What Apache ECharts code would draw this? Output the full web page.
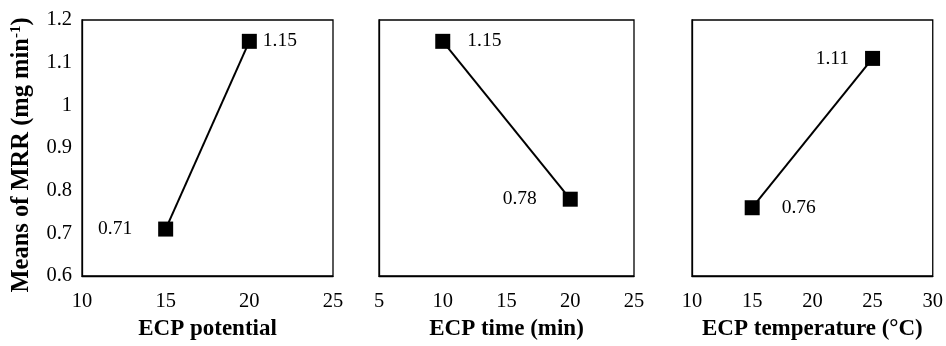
<!DOCTYPE html>
<html><head><meta charset="utf-8">
<script src="https://cdn.jsdelivr.net/npm/echarts@6/dist/echarts.min.js"></script>
<style>html,body{margin:0;padding:0;background:#fff}#c{width:946px;height:346px}</style>
</head><body><div id="c"></div>
<script>
// Data
const potentialX = [15, 20];
const potentialY = [0.71, 1.15];
const timeX = [10, 20];
const timeY = [1.15, 0.78];
const tempX = [15, 25];
const tempY = [0.76, 1.11];
const xTitles = ['ECP potential', 'ECP time (min)', 'ECP temperature (°C)'];
const xRanges = [[10, 25], [5, 25], [10, 30]];
const yRange = [0.6, 1.2];

// Style-only label placement
const labelPlace = [
  [['left', 26], ['right', 6]],
  [['right', 17], ['left', 26]],
  [['right', 22], ['left', 16]]
];

const FONT = 'Liberation Serif';
const grids = [
  {left: 82, width: 251, top: 20, bottom: 67},
  {left: 379, width: 255, top: 20, bottom: 67},
  {left: 692, width: 245, top: 20, bottom: 67}
];
const xs = [potentialX, timeX, tempX];
const ys = [potentialY, timeY, tempY];

const option = {
  animation: false,
  backgroundColor: '#fff',
  grid: grids.map(g => Object.assign({show: true, borderColor: '#000', borderWidth: 1.3, backgroundColor: 'transparent'}, g)),
  xAxis: xRanges.map((r, i) => ({
    type: 'value', gridIndex: i, min: r[0], max: r[1], interval: 5,
    name: xTitles[i], nameLocation: 'middle', nameGap: 42,
    nameTextStyle: {fontFamily: FONT, fontWeight: 'bold', fontSize: 23, color: '#000'},
    axisLine: {show: true, lineStyle: {color: '#000', width: 1.3}},
    axisTick: {show: false}, splitLine: {show: false},
    axisLabel: {fontFamily: FONT, fontSize: 20.5, color: '#000', margin: 15}
  })),
  yAxis: [0, 1, 2].map(i => ({
    type: 'value', gridIndex: i, min: yRange[0], max: yRange[1], interval: 0.1,
    name: i === 0 ? '{t|Means of MRR (mg min}{s|-1}{t|)}' : '',
    nameLocation: 'middle', nameGap: 48,
    nameTextStyle: {
      padding: [0, 14, 0, 0],
      rich: {
        t: {fontFamily: FONT, fontWeight: 'bold', fontSize: 24.5, color: '#000'},
        s: {fontFamily: FONT, fontWeight: 'bold', fontSize: 15, color: '#000', verticalAlign: 'top', padding: [0, 0, 9, 0]}
      }
    },
    axisLine: {show: true, lineStyle: {color: '#000', width: 1.3}},
    axisTick: {show: false}, splitLine: {show: false},
    axisLabel: {show: i === 0, fontFamily: FONT, fontSize: 20.5, color: '#000', margin: 10,
      formatter: v => String(Math.round(v * 10) / 10)}
  })),
  series: [0, 1, 2].map(i => ({
    type: 'line', xAxisIndex: i, yAxisIndex: i,
    symbol: 'rect', symbolSize: 15,
    itemStyle: {color: '#000'},
    lineStyle: {color: '#000', width: 2},
    data: xs[i].map((x, k) => ({
      value: [x, ys[i][k]],
      label: {show: true, position: labelPlace[i][k][0], distance: labelPlace[i][k][1],
        fontFamily: FONT, fontSize: 19.5, color: '#000',
        formatter: p => ys[i][k].toFixed(2)}
    }))
  }))
};
echarts.init(document.getElementById('c')).setOption(option);
</script></body></html>
